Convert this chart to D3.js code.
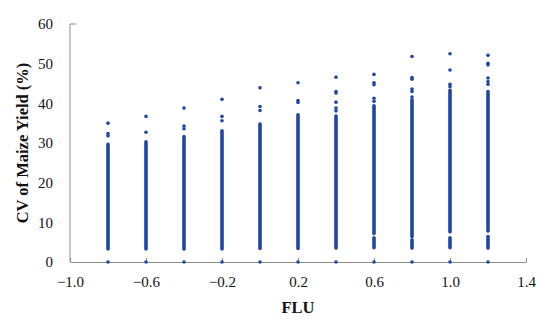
<!DOCTYPE html>
<html lang="en">
    <head>
        <meta charset="utf-8">
        <title>CV of maize yield vs FLU</title>
        <script type="text/javascript" src="https://cdn.jsdelivr.net/npm/d3@7"></script>
        <style type="text/css">
            body { margin: 0; background: #fff; }
            .axis text { font-family: "Liberation Serif", "Times New Roman", serif; font-size: 15px; fill: #111; }
            .axis path, .axis line { stroke: #8c8c8c; }
            .title { font-family: "Liberation Serif", "Times New Roman", serif; font-size: 16.5px; font-weight: bold; fill: #111; }
        </style>
    </head>
    <body>
        <script type="text/javascript">
            var w = 550;
            var h = 322;
            var margin = {top: 24, right: 24, bottom: 60, left: 70};

            //FLU levels (x) and what the strips look like at each level
            var flu = [-0.8, -0.6, -0.4, -0.2, 0, 0.2, 0.4, 0.6, 0.8, 1.0, 1.2];
            //main dense band of points
            var bandTop    = [29.7, 30.3, 31.6, 33.1, 34.8, 37.1, 36.8, 39.4, 40.9, 43.3, 43.0];
            var bandBottom = [3.3, 3.3, 3.3, 3.3, 3.4, 3.4, 3.5, 7.2, 6.4, 7.6, 7.8];
            //short lower band below a small gap (only for the high FLU levels)
            var lowBandTop = [null, null, null, null, null, null, null, 6.1, 5.6, 6.1, 6.4];
            var lowBandBottom = [null, null, null, null, null, null, null, 3.6, 3.5, 3.6, 3.5];
            //scattered points above the dense band
            var outliers = [
                [35.0, 32.4, 31.8],
                [36.7, 32.7],
                [38.8, 34.3, 33.6],
                [41.0, 36.7, 35.6],
                [43.9, 39.2, 38.2],
                [45.2, 40.7, 40.2],
                [46.6, 43.0, 42.6, 40.3, 38.8, 38.1],
                [47.3, 45.2, 44.7, 41.3, 40.5],
                [51.8, 46.5, 46.1, 43.6, 43.0, 41.6],
                [52.5, 48.4, 44.8, 44.2],
                [52.1, 50.1, 49.7, 46.4, 45.5, 44.8]
            ];
            //every FLU level also has points at zero
            var zeroCV = [0, 0, 0, 0, 0, 0, 0, 0, 0, 0, 0];

            var xTicks = [-1.0, -0.6, -0.2, 0.2, 0.6, 1.0, 1.4];
            var yTicks = [0, 10, 20, 30, 40, 50, 60];

            var dotColor = "#2146a0";
            var r = 1.8;

            var svg = d3.select("body")
                        .append("svg")
                        .attr("width", w)
                        .attr("height", h);

            var xScale = d3.scaleLinear()
                            .domain([-1.0, 1.4])
                            .range([margin.left, w - margin.right]);

            var yScale = d3.scaleLinear()
                            .domain([0, 60])
                            .range([h - margin.bottom, margin.top]);

            //x axis: small ticks pointing up into the plot
            var xAxis = d3.axisBottom(xScale)
                            .tickValues(xTicks)
                            .tickSizeInner(-4)
                            .tickSizeOuter(0)
                            .tickPadding(14)
                            .tickFormat(function(d){ return d3.format(".1f")(d).replace("-", "\u2212"); });

            var yAxis = d3.axisLeft(yScale)
                            .tickValues(yTicks)
                            .tickSize(0)
                            .tickPadding(17)
                            .tickFormat(d3.format("d"));

            //dense bands drawn as thick round-capped strokes (dots overlapping)
            var bands = svg.append("g");
            bands.selectAll("line.band")
                .data(flu)
                .enter()
                .append("line")
                .attr("class", "band")
                .attr("x1", function(d){ return xScale(d); })
                .attr("x2", function(d){ return xScale(d); })
                .attr("y1", function(d, i){ return yScale(bandTop[i]); })
                .attr("y2", function(d, i){ return yScale(bandBottom[i]); })
                .attr("stroke", dotColor)
                .attr("stroke-width", r * 2)
                .attr("stroke-linecap", "round");

            bands.selectAll("line.lowband")
                .data(flu.filter(function(d, i){ return lowBandTop[i] !== null; }).map(function(d){ return flu.indexOf(d); }))
                .enter()
                .append("line")
                .attr("class", "lowband")
                .attr("x1", function(i){ return xScale(flu[i]); })
                .attr("x2", function(i){ return xScale(flu[i]); })
                .attr("y1", function(i){ return yScale(lowBandTop[i]); })
                .attr("y2", function(i){ return yScale(lowBandBottom[i]); })
                .attr("stroke", dotColor)
                .attr("stroke-width", r * 2)
                .attr("stroke-linecap", "round");

            //outlier points
            var pts = [];
            flu.forEach(function(f, i){
                outliers[i].forEach(function(v){ pts.push([f, v]); });
            });
            svg.append("g")
                .selectAll("circle")
                .data(pts)
                .enter()
                .append("circle")
                .attr("cx", function(d){ return xScale(d[0]); })
                .attr("cy", function(d){ return yScale(d[1]); })
                .attr("r", r)
                .attr("fill", dotColor);

            //axes
            svg.append("g")
                .attr("class", "axis")
                .attr("transform", "translate(0," + (h - margin.bottom) + ")")
                .call(xAxis);

            var yg = svg.append("g")
                .attr("class", "axis")
                .attr("transform", "translate(" + margin.left + ",0)")
                .call(yAxis);
            yg.select(".domain").attr("d", "M6," + yScale(60) + "H0V" + yScale(0));

            //zero points on top of the x axis
            svg.append("g")
                .selectAll("circle")
                .data(flu)
                .enter()
                .append("circle")
                .attr("cx", function(d){ return xScale(d); })
                .attr("cy", function(d, i){ return yScale(zeroCV[i]); })
                .attr("r", r)
                .attr("fill", dotColor);

            //axis titles
            svg.append("text")
                .attr("class", "title")
                .attr("x", (margin.left + w - margin.right) / 2)
                .attr("y", 313)
                .attr("text-anchor", "middle")
                .text("FLU");

            svg.append("text")
                .attr("class", "title")
                .attr("transform", "translate(28," + ((margin.top + h - margin.bottom) / 2) + ") rotate(-90)")
                .attr("text-anchor", "middle")
                .text("CV of Maize Yield (%)");
        </script>
    </body>
</html>
